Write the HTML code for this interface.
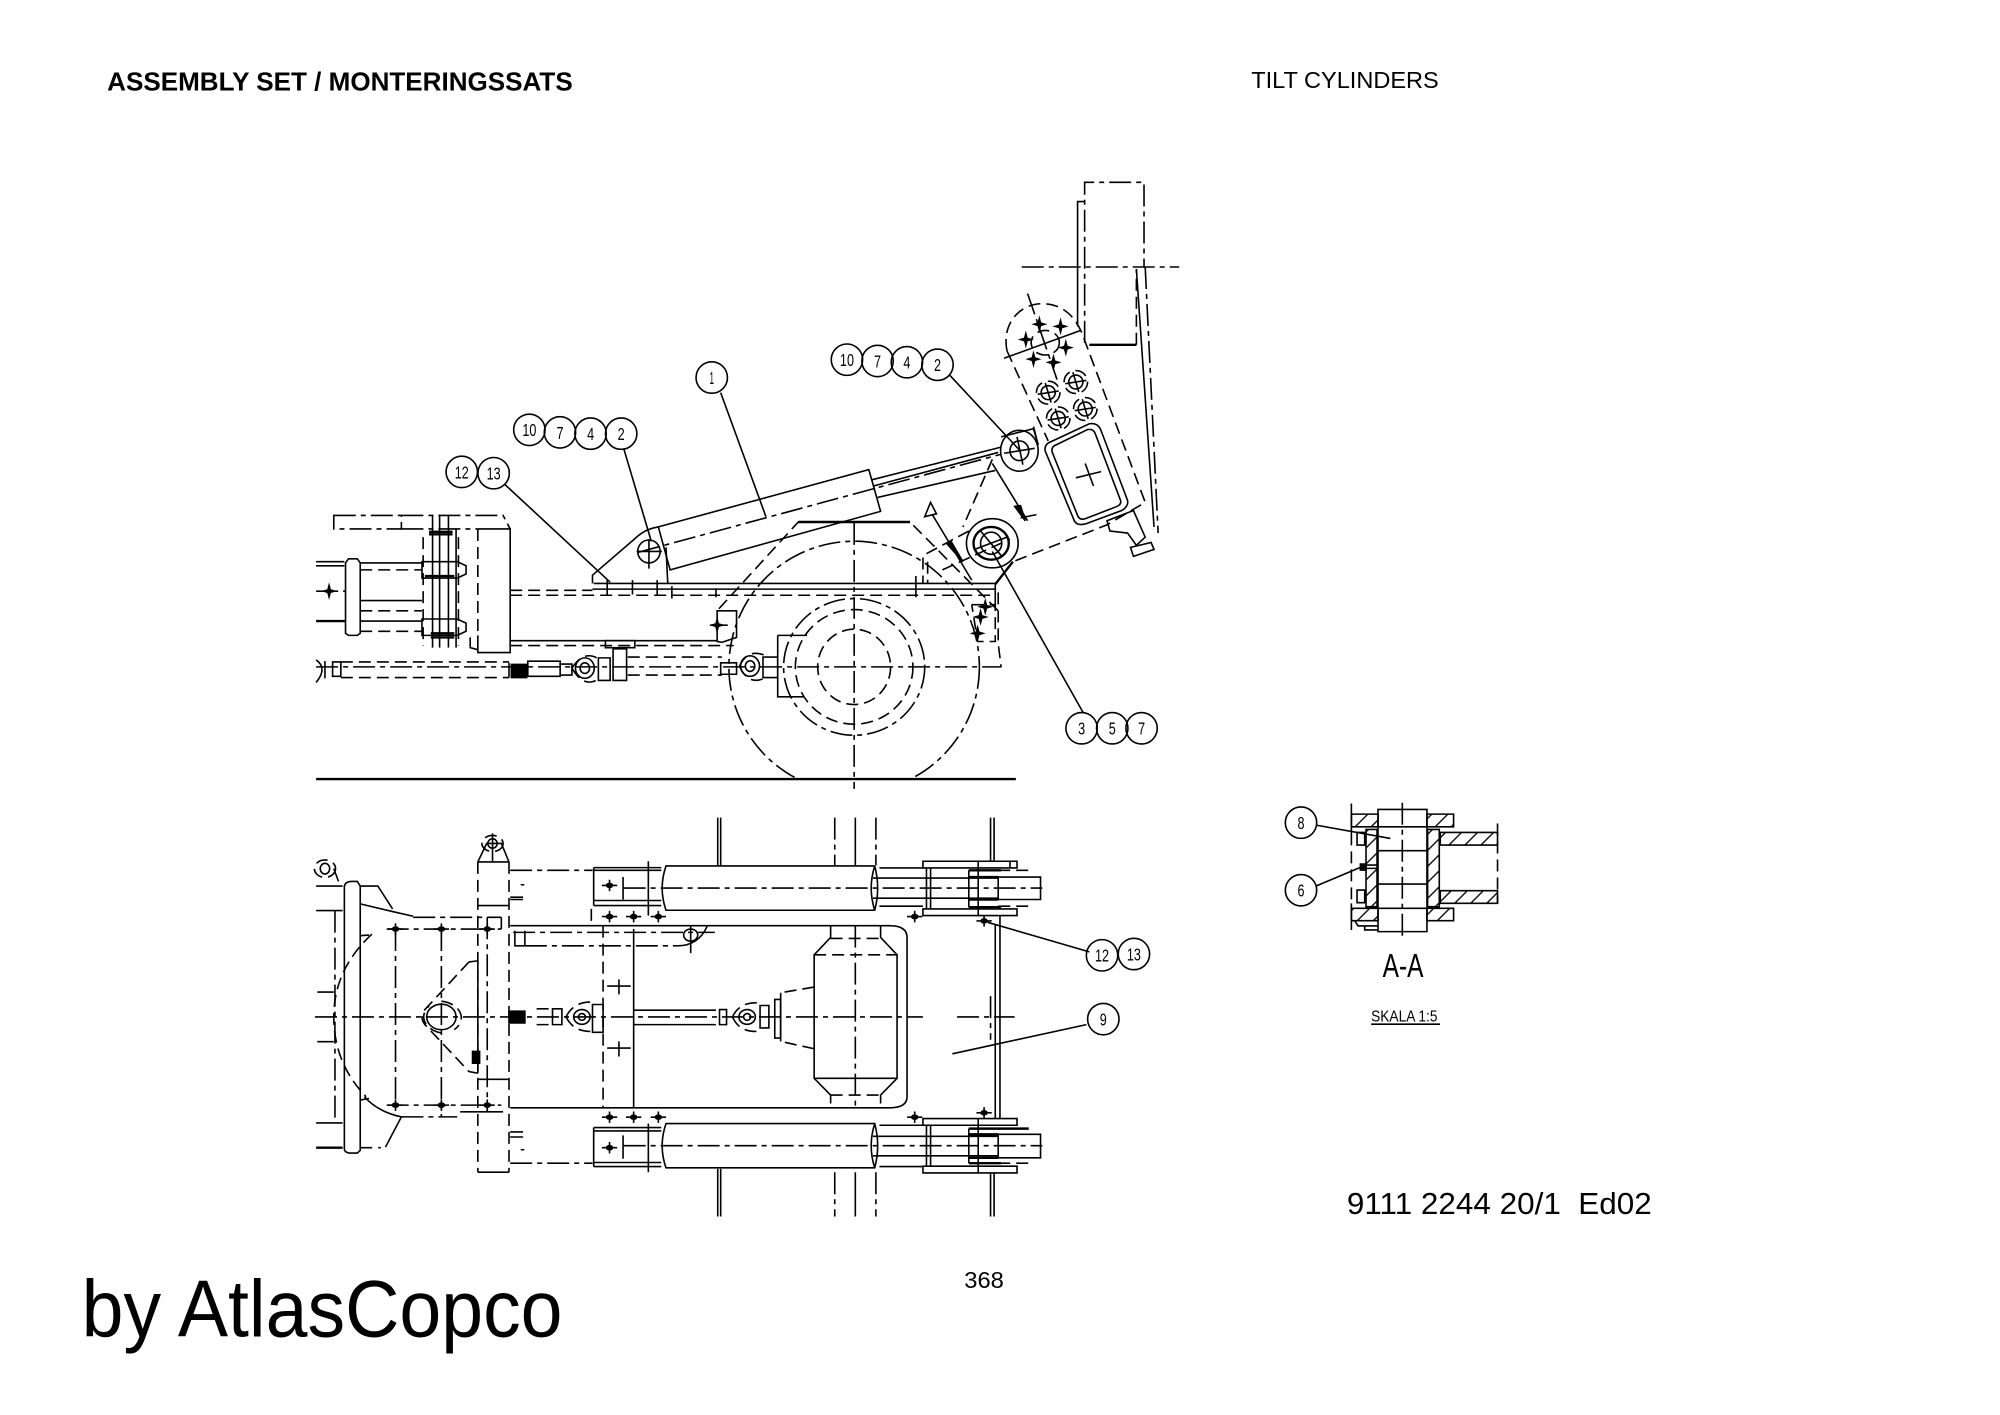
<!DOCTYPE html>
<html><head><meta charset="utf-8"><style>
html,body{margin:0;padding:0;background:#fff}
svg{display:block}
svg *{vector-effect:non-scaling-stroke}
svg pattern line{vector-effect:none}
.g{fill:none;stroke:#000;stroke-width:1.6}
.c{stroke-dasharray:22 5 5 5}
.d{stroke-dasharray:12 6}
.t{stroke-width:2.4}
.f{fill:#000;stroke:#000}
.w{fill:#fff}
text{font-family:"Liberation Sans",sans-serif;fill:#000;stroke:none;white-space:pre}
.n text{font-size:14px;text-anchor:middle}
</style></head><body>
<svg width="2000" height="1415" viewBox="0 0 1568 1109.4" xmlns="http://www.w3.org/2000/svg">
<defs>
<pattern id="h" width="34" height="34" patternUnits="userSpaceOnUse" patternTransform="rotate(-45)"><line x1="0" y1="0" x2="34" y2="0" stroke="#000" stroke-width="8"/></pattern>
<clipPath id="gr"><rect x="0" y="0" width="2000" height="1516"/></clipPath>
<g id="star"><path class="f" d="M0,-14 L2,-3 L9,0 L2,3 L0,14 L-2,3 L-9,0 L-2,-3Z"/></g>
<g id="dot"><ellipse class="f" rx="5" ry="6"/><path class="g" d="M-13,0H13M0,-17V17"/></g>
<g id="bolt"><ellipse class="g d" rx="20" ry="28"/><ellipse class="g" rx="12" ry="17"/><path class="g" d="M-18,4L18,-4M-5,-24L5,24"/></g>
</defs>
<rect width="1568" height="1110" fill="#fff"/>

<!-- SIDE VIEW -->
<g transform="translate(234,124.3) scale(.461,.3209)" class="g">
<path class="c" d="M1230,265H1498"/>
<path class="c" d="M1337,450V58H1438V265"/>
<path d="M1337,105H1325V410"/>
<path class="t" d="M1345,455H1425"/>
<path class="d" d="M1425,455V270"/>
<path class="c" d="M1440,265L1462,915"/>
<path d="M1425,270L1455,900"/>
<path class="d" d="M1205,470C1195,400 1230,350 1270,355C1300,358 1320,385 1332,425L1440,840L1375,895L1215,985"/>
<path class="d" d="M1205,470L1275,690"/>
<path d="M1200,488L1330,420"/>
<path class="c" d="M1240,330L1290,540"/>
<ellipse class="d" cx="1270" cy="450" rx="24" ry="30"/>
<use href="#star" x="1260" y="405"/><use href="#star" x="1296" y="410"/><use href="#star" x="1237" y="442"/><use href="#star" x="1305" y="462"/><use href="#star" x="1250" y="490"/><use href="#star" x="1284" y="498"/>
<use href="#bolt" x="1275" y="572"/><use href="#bolt" x="1322" y="546"/><use href="#bolt" x="1292" y="635"/><use href="#bolt" x="1338" y="612"/>
<path d="M1275,695L1345,648Q1360,645 1365,665L1410,835Q1412,850 1400,860L1340,892Q1322,900 1318,880L1270,715Q1268,703 1275,695Z"/>
<path d="M1285,702L1342,662Q1352,660 1355,672L1398,835Q1400,845 1392,850L1338,880Q1328,884 1325,872L1282,718Q1280,708 1285,702Z"/>
<path d="M1322,780L1365,765M1338,745L1352,800"/>
<path d="M1375,885L1420,860L1440,925L1425,945L1410,915L1380,910Z"/>
<path d="M1415,950L1450,938L1455,955L1420,972Z"/>
<path d="M1250,655L1258,700"/>
<path class="w" d="M612,900L970,760L990,862L632,1005Z"/>
<path d="M975,785L1195,705M985,828L1185,762M978,800L1190,718"/>
<path class="c" d="M578,962L1240,705"/>
<path d="M500,1038V1018L575,925Q590,905 612,900M625,950L628,1038"/>
<ellipse cx="596" cy="960" rx="19" ry="28"/>
<path d="M575,960H618M596,930V1002"/>
<ellipse class="w" cx="1226" cy="714" rx="32" ry="50"/>
<ellipse cx="1226" cy="714" rx="16" ry="24"/>
<path d="M1200,720L1252,708M1222,680L1232,748"/>
<path d="M1195,680L1250,660L1258,700"/>
<path d="M1180,745L1240,885M1228,878L1255,870"/>
<path class="f" d="M1218,850L1228,848L1236,885Z"/>
<path d="M1075,840L1065,875L1085,868Z"/>
<path d="M1078,870L1145,1030"/>
<path class="f" d="M1102,940L1110,936L1130,985Z"/>
<path class="d" d="M1180,735L1130,900"/>
<ellipse cx="1180" cy="940" rx="44" ry="60"/>
<ellipse class="t" cx="1178" cy="940" rx="30" ry="40"/>
<ellipse cx="1178" cy="940" rx="18" ry="27"/>
<path d="M1150,955L1205,925M1160,910L1195,970"/>
<path class="d" d="M1095,1005L1210,930M1140,910L1062,970L1062,1038M1070,985V1038"/>
<path class="t" d="M1215,985L1185,1040"/>
<path class="d" d="M715,1100L850,888H1040L1190,1105"/>
<path class="t" d="M850,888H1040"/>
<ellipse class="c" cx="945" cy="1242" rx="213" ry="307" clip-path="url(#gr)"/>
<ellipse cx="945" cy="1242" rx="120" ry="167" class="c"/>
<ellipse cx="945" cy="1242" rx="100" ry="140" class="d"/>
<ellipse cx="945" cy="1242" rx="62" ry="92" class="d"/>
<path class="c" d="M945,890V1540"/>
<path d="M815,1165H865M815,1165V1315H860"/>
<path class="t" d="M30,1516H1220"/>
<path d="M502,1038H1185M500,1052H1185"/>
<path class="d" d="M360,1055H500M360,1067H1185"/>
<path d="M525,1030V1065M568,1030V1065M610,1030V1065M635,1045V1075M710,1050V1072M1050,1020V1072"/>
<path d="M360,1178H712"/>
<path class="d" d="M360,1190H740"/>
<path d="M1185,1040V1100"/>
<path class="d" d="M1190,1060V1185L1195,1243"/>
<path class="d" d="M1145,1090L1185,1090V1180L1155,1180L1145,1090"/>
<use href="#star" x="1168" y="1095"/><use href="#star" x="1160" y="1120"/><use href="#star" x="1155" y="1160"/>
<path d="M712,1105H745V1170L720,1182L712,1180Z"/>
<path d="M700,1140H730"/>
<use href="#star" x="712" y="1140"/>
<path d="M305,905H360V1207H305V1165"/>
<path class="d" d="M305,905V1165"/>
<path d="M60,872H175V905H60Z" class="c"/>
<path class="c" d="M175,872H348L360,905M175,905H305"/>
<path d="M228,870V1195M240,870V1195M255,870V1195M268,905V1195"/>
<path class="d" d="M212,925V1190M272,925V1190"/>
<path class="t" d="M222,912H262M222,918H262M215,1020H265M225,1160H265M225,1170H265"/>
<path d="M210,985H270L285,995V1015L270,1025H210Z"/>
<path d="M210,1125H270L285,1135V1155L270,1165H210Z"/>
<path d="M30,985H78M30,995H78M105,988H210"/>
<path class="d" d="M105,1005H210"/>
<path d="M85,978H100L105,988V1160L100,1165H85L80,1160V988Z"/>
<path d="M105,1080H210M105,1130H210"/>
<path class="d" d="M105,1105H210M105,1155H210"/>
<path class="t" d="M30,1130H80"/>
<use href="#star" x="52" y="1057"/>
<path class="c" d="M30,1057H80"/>
<path d="M292,1170V1195L305,1200"/>
<path class="c" d="M30,1242H1195"/>
<path d="M358,1232V1268"/>
<path class="f" d="M362,1236H388V1268H362Z"/>
<path class="d" d="M72,1230H358M72,1268H358"/>
<path d="M58,1230H72V1265H58ZM30,1225Q50,1245 30,1280M45,1228V1270"/>
<path d="M390,1228H445V1265H390ZM445,1235H465V1262H445Z"/>
<ellipse cx="487" cy="1245" rx="16" ry="25"/><ellipse cx="487" cy="1245" rx="8" ry="13"/>
<path class="d" d="M465,1245Q485,1200 510,1222M465,1245Q485,1295 510,1272"/>
<path d="M510,1220H530V1275H510ZM535,1198H558V1275H535Z"/>
<path d="M522,1178H572V1195H522Z"/>
<path class="d" d="M560,1218H720M560,1262H720"/>
<path d="M718,1232H745V1260H718Z"/>
<ellipse cx="768" cy="1240" rx="16" ry="25"/><ellipse cx="768" cy="1240" rx="8" ry="13"/>
<path class="d" d="M750,1240Q765,1195 795,1215M750,1240Q765,1290 795,1268"/>
<path d="M790,1218H815V1268H790Z"/>
<path d="M718,572L795,875M553,708L600,935M350,795L530,1035M1108,530L1228,715M1335,1355L1180,960"/>
</g>

<!-- PLAN VIEW -->
<g transform="translate(234,633.7) scale(.461,.263)" class="g">
<path d="M713,28V170M718,28V170M947,28V170M1177,28V160M1183,28V160"/>
<path class="c" d="M912,28V170M982,28V170"/>
<path d="M713,1075V1217M718,1075V1217M947,1085V1217M1177,1085V1217M1183,1085V1217"/>
<path class="c" d="M912,1085V1217M982,1085V1217"/>
<path d="M360,350H1005Q1035,350 1035,385V860Q1035,893 1005,893H360"/>
<path class="c" d="M360,185H500M360,1058H500"/>
<path class="d" d="M518,350V893"/>
<path d="M570,360V893M570,602H710M570,645H710"/>
<path d="M525,530H565M545,510V555M525,715H565M545,695V740"/>
<path class="c" d="M365,370H708"/>
<path d="M368,365V410H385M385,365V410"/>
<path class="c" d="M385,410H645"/>
<path d="M645,410Q680,410 695,352"/>
<ellipse cx="667" cy="378" rx="12" ry="18"/><path d="M667,352V432"/>
<g>
<path class="w" d="M625,172H980Q990,238 980,304H625Q612,238 625,172Z"/>
<path d="M980,172Q968,238 980,304"/>
<path d="M977,208H1190M977,268H1190"/>
<path d="M1190,205H1262V272H1190Z"/>
<path class="c" d="M553,238H1265"/>
<path d="M988,178H1062M988,292H1062"/>
<path d="M1062,158H1222V178H1062ZM1062,300H1222V320H1062Z"/>
<path d="M1068,178V300M1075,178V300"/>
<path class="t" d="M1140,185H1195M1140,205H1190M1140,272H1190M1140,295H1195"/>
<path d="M1140,185V295"/>
<path class="d" d="M1190,185H1245M1190,292H1245"/>
<path d="M1156,158V320M1210,158V178"/>
<path d="M502,177H617M502,185H617M502,275H617M502,290H617"/>
<path d="M502,177V290M552,205V272M595,158V320"/>
<path class="d" d="M498,300V345"/>
<use href="#dot" x="529" y="230"/>
<use href="#dot" x="529" y="323"/><use href="#dot" x="570" y="323"/><use href="#dot" x="612" y="323"/>
<use href="#dot" x="1048" y="323"/>
<use href="#dot" x="1166" y="336"/>
</g>
<g>
<path class="w" d="M625,940H980Q990,1006 980,1072H625Q612,1006 625,940Z"/>
<path d="M980,940Q968,1006 980,1072"/>
<path d="M977,978H1190M977,1036H1190"/>
<path d="M1190,972H1262V1042H1190Z"/>
<path class="c" d="M553,1006H1265"/>
<path d="M988,945H1062M988,1068H1062"/>
<path d="M1062,925H1222V945H1062ZM1062,1067H1222V1087H1062Z"/>
<path d="M1068,945V1067M1075,945V1067"/>
<path class="t" d="M1140,955H1242M1140,972H1190M1140,1042H1190M1140,1058H1195"/>
<path d="M1140,955V1058"/>
<path class="d" d="M1190,1058H1245"/>
<path d="M1156,925V1087"/>
<path d="M502,952H617M502,962H617M502,1056H617M502,1068H617"/>
<path d="M502,952V1068M552,975V1045M595,940V1085"/>
<use href="#dot" x="529" y="1012"/>
<use href="#dot" x="529" y="921"/><use href="#dot" x="570" y="921"/><use href="#dot" x="612" y="921"/>
<use href="#dot" x="1048" y="921"/>
<use href="#dot" x="1166" y="908"/>
</g>
<path d="M905,350V385L877,437V805L905,855V880M990,350V385L1018,437V805L990,855V880"/>
<path class="d" d="M905,388H990M877,437H1018M905,855H990"/>
<path d="M877,805H1018"/>
<path class="c" d="M947,350V893"/>
<path class="d" d="M877,533L820,550M877,717L820,695"/>
<path d="M820,550V695"/>
<path d="M716,600H728V645H716ZM785,588H800V655H785ZM810,570H820V685H810Z"/>
<ellipse cx="763" cy="622" rx="14" ry="22"/><ellipse cx="763" cy="622" rx="6" ry="10"/>
<path class="d" d="M738,622Q750,578 780,580M738,622Q750,668 780,665"/>
<path class="c" d="M28,622H1062M1120,622H1218"/>
<path d="M1185,345V925M1193,320V925"/>
<path class="c" d="M1177,560V690"/>
<path class="d" d="M305,160V1085M358,160V1085"/>
<path d="M305,1085H358M305,160H358M305,290H358M305,808H358M305,905H348M358,160L345,105H320L305,160"/>
<ellipse class="d" cx="330" cy="105" rx="18" ry="24"/><ellipse cx="330" cy="105" rx="8" ry="14"/>
<path d="M330,75V160"/>
<path d="M360,265H382M360,272H382M360,965H382M360,980H382"/>
<path class="d" d="M378,228H384M378,1018H384"/>
<path d="M305,790V455L290,458"/>
<path class="d" d="M290,458L215,600Q205,622 215,645L290,785"/>
<path d="M290,785L305,790"/>
<ellipse cx="243" cy="622" rx="25" ry="38"/>
<path class="d" d="M243,575A40,50 0 0 1 265,660M243,670A40,50 0 0 1 222,590"/>
<path class="f" d="M296,725H308V760H296Z"/>
<path class="f" d="M358,605H385V640H358Z"/>
<path class="d" d="M405,598H432M405,645H432"/>
<path d="M432,598H448V645H432Z"/>
<ellipse cx="482" cy="622" rx="14" ry="22"/><ellipse cx="482" cy="622" rx="6" ry="10"/>
<path class="d" d="M455,622Q468,575 500,578M455,622Q468,668 500,665"/>
<path d="M500,585H518V668H500Z"/>
<path class="d" d="M125,375Q60,480 60,622Q60,760 115,860"/>
<path d="M78,232Q80,218 90,218H100L105,232V1020L100,1028H90Q78,1028 78,1015Z"/>
<path d="M30,232H75M30,305H75M30,938H75"/>
<path class="t" d="M30,1012H75"/>
<path d="M32,548H60M32,696H60"/>
<path class="c" d="M62,305V938"/>
<path d="M105,285L160,308L195,322M105,232H135L160,300"/>
<path d="M105,380L120,378M105,870L120,865"/>
<path d="M112,860Q135,905 175,920L148,1010"/>
<path class="d" d="M105,1012H140"/>
<path d="M68,218L60,180"/>
<ellipse class="d" cx="45" cy="180" rx="18" ry="26"/><ellipse cx="45" cy="180" rx="8" ry="16"/>
<path class="c" d="M195,325H345"/>
<path d="M345,325V360"/>
<path class="c" d="M150,360H345M150,885H345"/>
<path class="c" d="M175,920H270M275,905H305"/>
<path class="c" d="M165,360V885"/>
<path class="c" d="M243,360V920"/>
<path class="c" d="M321,325V905"/>
<use href="#dot" x="165" y="360"/><use href="#dot" x="243" y="360"/><use href="#dot" x="321" y="360"/>
<use href="#dot" x="165" y="885"/><use href="#dot" x="243" y="885"/><use href="#dot" x="321" y="885"/>
<path d="M1172,340L1345,428M1340,645L1112,732"/>
</g>

<!-- SECTION A-A -->
<g transform="translate(1002.6,619.5) scale(.261)" class="g">
<path d="M218,40V130M218,340V420"/>
<path class="d" d="M218,130V340"/>
<path style="fill:url(#h)" d="M218,72H298V110H218ZM445,72H525V110H445ZM218,355H298V392H218ZM445,355H525V392H445Z"/>
<path d="M298,58H445V425H298Z"/>
<path d="M298,182H445M298,282H445M298,110H445M298,355H445"/>
<path class="c" d="M371,38V446"/>
<path style="fill:url(#h)" d="M262,118H295V350H262ZM447,118H482V350H447Z"/>
<path style="fill:url(#h)" d="M485,127H657V165H485ZM485,302H657V340H485Z"/>
<path class="d" d="M657,100V340"/>
<path d="M235,127H258V165H235ZM235,300H258V338H235Z"/>
<path class="f" d="M245,222H262V240H245Z"/>
<path d="M262,225H295M262,235H295"/>
<path d="M228,392L238,408H298M258,408V420H298"/>
<path d="M112,105L335,145M112,288L245,232"/>
</g>

<!-- balloons -->
<g class="g">
<circle cx="415" cy="337" r="12.3"/><circle cx="439" cy="339" r="12.3"/><circle cx="463" cy="340" r="12.3"/><circle cx="487" cy="340" r="12.3"/>
<circle cx="362" cy="370" r="12.3"/><circle cx="387" cy="371" r="12.3"/>
<circle cx="558" cy="296" r="12.3"/>
<circle cx="664" cy="282" r="12.3"/><circle cx="688" cy="283" r="12.3"/><circle cx="711" cy="284" r="12.3"/><circle cx="735" cy="286" r="12.3"/>
<circle cx="848" cy="571" r="12.3"/><circle cx="872" cy="571" r="12.3"/><circle cx="895" cy="571" r="12.3"/>
<circle cx="864" cy="749" r="12.3"/><circle cx="889" cy="748" r="12.3"/>
<circle cx="865" cy="799" r="12.3"/>
<circle cx="1020" cy="645" r="12.3"/><circle cx="1020" cy="698" r="12.3"/>
</g>
<g class="n">
<text x="415" y="342" textLength="11" lengthAdjust="spacingAndGlyphs">10</text><text x="439" y="344" textLength="5.5" lengthAdjust="spacingAndGlyphs">7</text><text x="463" y="345" textLength="5.5" lengthAdjust="spacingAndGlyphs">4</text><text x="487" y="345" textLength="5.5" lengthAdjust="spacingAndGlyphs">2</text>
<text x="362" y="375" textLength="11" lengthAdjust="spacingAndGlyphs">12</text><text x="387" y="376" textLength="11" lengthAdjust="spacingAndGlyphs">13</text>
<text x="558" y="301" textLength="3.5" lengthAdjust="spacingAndGlyphs">1</text>
<text x="664" y="287" textLength="11" lengthAdjust="spacingAndGlyphs">10</text><text x="688" y="288" textLength="5.5" lengthAdjust="spacingAndGlyphs">7</text><text x="711" y="289" textLength="5.5" lengthAdjust="spacingAndGlyphs">4</text><text x="735" y="291" textLength="5.5" lengthAdjust="spacingAndGlyphs">2</text>
<text x="848" y="576" textLength="5.5" lengthAdjust="spacingAndGlyphs">3</text><text x="872" y="576" textLength="5.5" lengthAdjust="spacingAndGlyphs">5</text><text x="895" y="576" textLength="5.5" lengthAdjust="spacingAndGlyphs">7</text>
<text x="864" y="754" textLength="11" lengthAdjust="spacingAndGlyphs">12</text><text x="889" y="753" textLength="11" lengthAdjust="spacingAndGlyphs">13</text>
<text x="865" y="804" textLength="5.5" lengthAdjust="spacingAndGlyphs">9</text>
<text x="1020" y="650" textLength="5.5" lengthAdjust="spacingAndGlyphs">8</text><text x="1020" y="703" textLength="5.5" lengthAdjust="spacingAndGlyphs">6</text>
</g>

<text x="1084" y="766" font-size="26" textLength="32" lengthAdjust="spacingAndGlyphs">A-A</text>
<text x="1075" y="801" font-size="12" textLength="52" lengthAdjust="spacingAndGlyphs">SKALA 1:5</text>
<path class="g" d="M1075,803H1129"/>

<text x="84" y="71" font-size="20" font-weight="700" textLength="365" lengthAdjust="spacingAndGlyphs">ASSEMBLY SET / MONTERINGSSATS</text>
<text x="981" y="69" font-size="18" textLength="147" lengthAdjust="spacingAndGlyphs">TILT CYLINDERS</text>
<text x="1056" y="952" font-size="24" textLength="239" lengthAdjust="spacingAndGlyphs">9111 2244 20/1  Ed02</text>
<text x="756" y="1010" font-size="18" textLength="31" lengthAdjust="spacingAndGlyphs">368</text>
<text x="64" y="1048" font-size="63" textLength="377" lengthAdjust="spacingAndGlyphs">by AtlasCopco</text>
</svg>
</body></html>
